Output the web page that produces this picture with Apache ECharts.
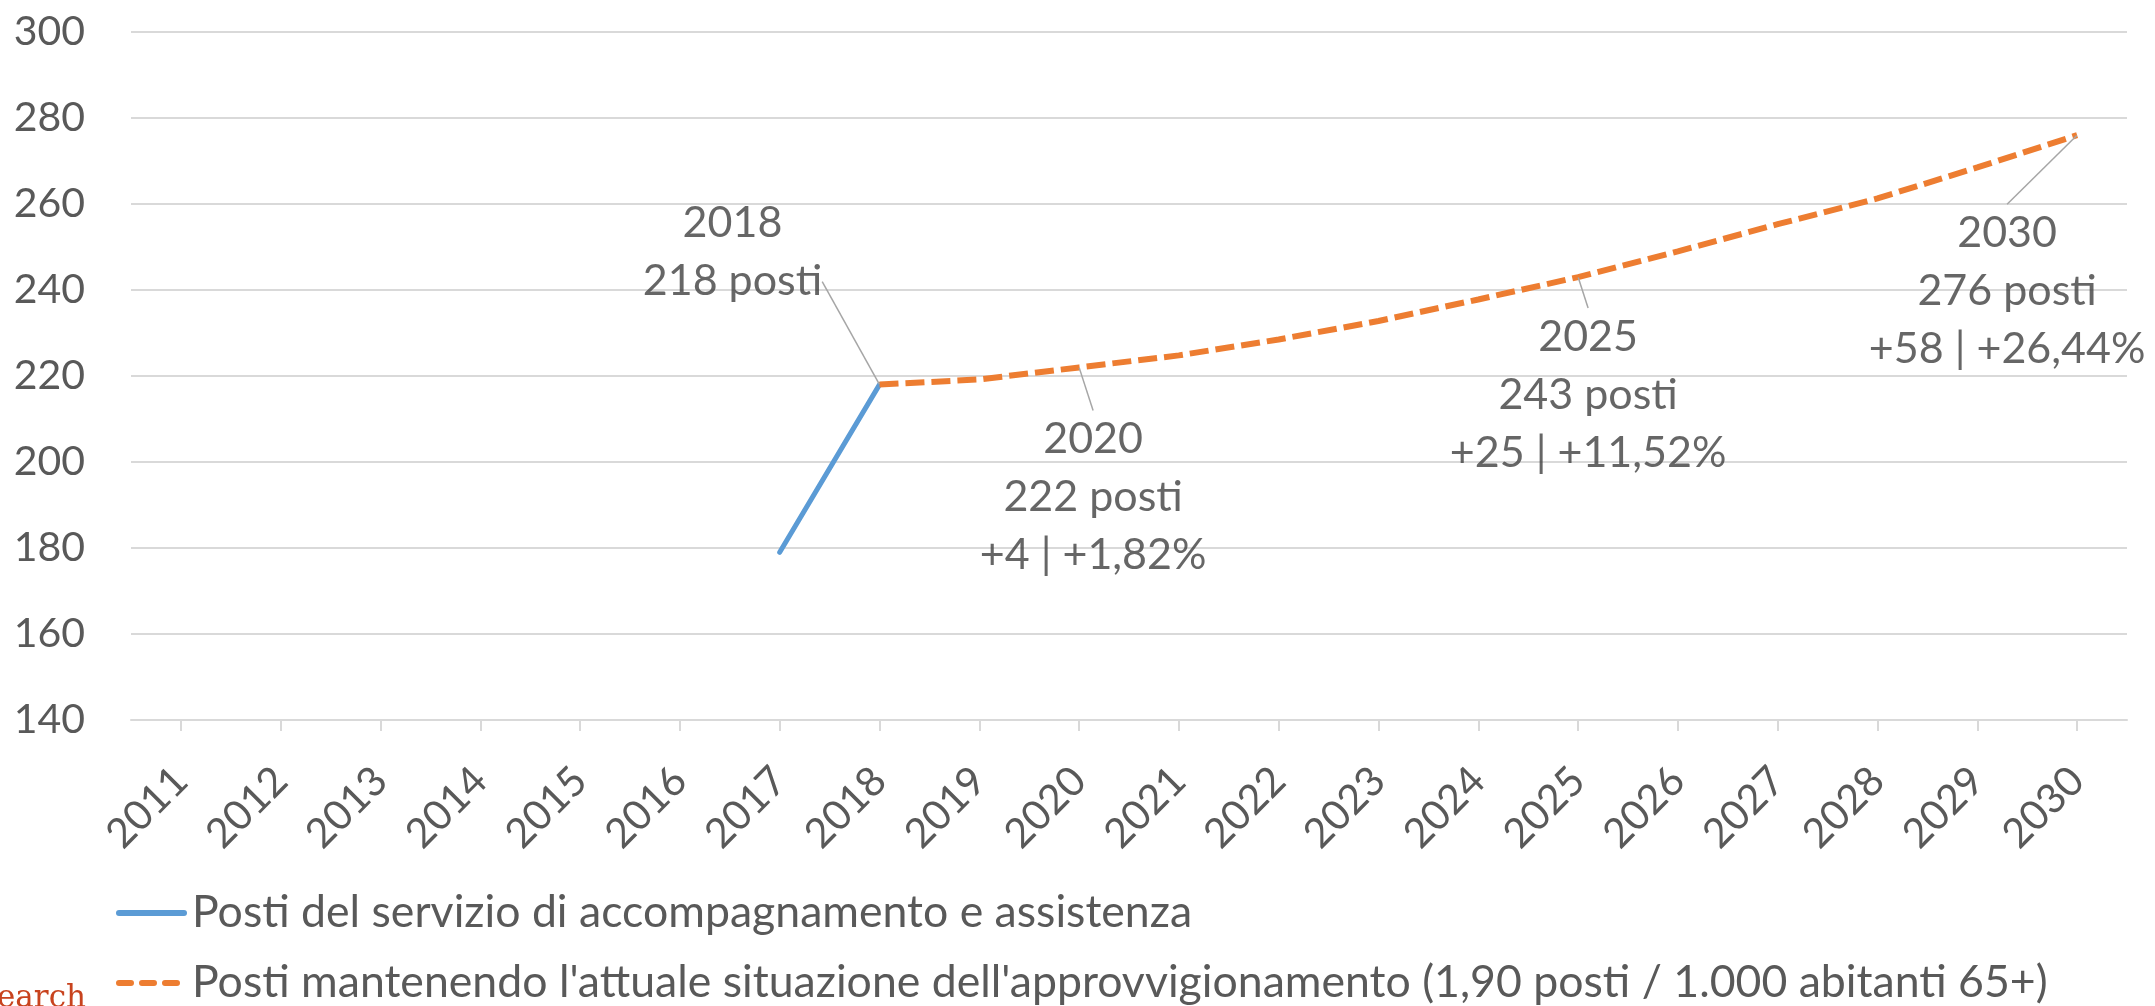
<!DOCTYPE html>
<html>
<head>
<meta charset="utf-8">
<script src="https://cdn.jsdelivr.net/npm/echarts@6/dist/echarts.min.js"></script>
<style>
html,body{margin:0;padding:0;background:#fff;}
#chart{width:2155px;height:1006px;}
</style>
</head>
<body>
<div id="chart"></div>
<script>
const years = ['2011','2012','2013','2014','2015','2016','2017','2018','2019','2020',
               '2021','2022','2023','2024','2025','2026','2027','2028','2029','2030'];
const serviceSeats = [null,null,null,null,null,null,179,218,null,null,
                      null,null,null,null,null,null,null,null,null,null];
const projectedSeats = [null,null,null,null,null,null,null,218,219.2,222,
                        224.8,228.5,232.8,237.8,243,249,255.3,261.3,268.5,276];
const seriesNames = ['Posti del servizio di accompagnamento e assistenza',
                     "Posti mantenendo l'attuale situazione dell'approvvigionamento (1,90 posti / 1.000 abitanti 65+)"];
const labelYears = ['2018','2020','2025','2030'];
const labelTexts = ['2018\n218 posti',
                    '2020\n222 posti\n+4 | +1,82%',
                    '2025\n243 posti\n+25 | +11,52%',
                    '2030\n276 posti\n+58 | +26,44%'];
const yTicks = {min:140, max:300, step:20};
const watermark = 'earch';

const FONT = 'Lato';
const chart = echarts.init(document.getElementById('chart'), null, {renderer:'canvas'});
const labelPoints = labelYears.map(y => [y, projectedSeats[years.indexOf(y)]]);
// label placement: [dx, dy]
const placement = [[-147,-103],[14,130],[10,118],[-70,156]];

const legendIcons = [
  'path://M3,0h65a3,3 0 0 1 0,6h-65a3,3 0 0 1 0,-6z',
  'path://M3,0h12a3,3 0 0 1 0,6h-12a3,3 0 0 1 0,-6z M26,0h12a3,3 0 0 1 0,6h-12a3,3 0 0 1 0,-6z M49,0h12a3,3 0 0 1 0,6h-12a3,3 0 0 1 0,-6z M71,3z'
];
const legendTops = [885, 955];
const legends = seriesNames.map((n,i) => ({
  orient:'horizontal', left:111, top:legendTops[i], itemWidth:71, itemHeight:6,
  data:[{name:n, icon:legendIcons[i]}],
  textStyle:{color:'#595959',fontFamily:FONT,fontSize:44.6,lineHeight:46,padding:0}
}));

chart.setOption({
  animation:false,
  backgroundColor:'#ffffff',
  grid:{left:131,right:28,top:32,bottom:286,containLabel:false},
  xAxis:{
    type:'category', data:years, boundaryGap:true,
    axisLine:{show:true,lineStyle:{color:'#d9d9d9',width:2}},
    axisTick:{show:true,alignWithLabel:true,length:11,lineStyle:{color:'#d9d9d9',width:2}},
    axisLabel:{interval:0,rotate:45,margin:54,color:'#595959',fontFamily:FONT,fontSize:41}
  },
  yAxis:{
    type:'value', min:yTicks.min, max:yTicks.max, interval:yTicks.step,
    axisLine:{show:false}, axisTick:{show:false},
    axisLabel:{margin:46,color:'#595959',fontFamily:FONT,fontSize:41},
    splitLine:{lineStyle:{color:'#d9d9d9',width:2}}
  },
  legend:legends,
  graphic:[{
    type:'text', left:-3, top:983, silent:true,
    style:{text:watermark, fill:'#c8431e', font:'31px "DejaVu Serif"'}
  }],
  series:[
    {
      name:seriesNames[0], type:'line', data:serviceSeats, symbol:'none', connectNulls:false,
      lineStyle:{color:'#5B9BD5',width:5,cap:'round'}, itemStyle:{color:'#5B9BD5'}, z:2
    },
    {
      name:seriesNames[1], type:'line', data:projectedSeats, symbol:'none',
      lineStyle:{color:'#ED7D31',width:6,type:[19,7],cap:'butt'}, itemStyle:{color:'#ED7D31'}, z:3
    },
    {
      name:'etichette', type:'scatter', data:labelPoints,
      symbolSize:1, itemStyle:{color:'rgba(0,0,0,0)'}, silent:true, z:4,
      label:{
        show:true, position:'inside', align:'center', verticalAlign:'middle',
        color:'#404040', fontFamily:FONT, fontSize:43, lineHeight:58,
        // the 2018 label gets an empty trailing line so its guide line meets "218 posti"
        formatter: p => labelTexts[p.dataIndex] + (p.dataIndex === 0 ? '\n ' : '')
      },
      labelLine:{show:true, lineStyle:{color:'#a6a6a6',width:1.5}},
      labelLayout: p => ({dx:placement[p.dataIndex][0], dy:placement[p.dataIndex][1]})
    }
  ]
});
</script>
</body>
</html>
